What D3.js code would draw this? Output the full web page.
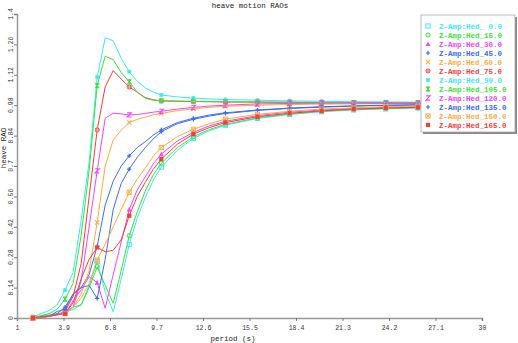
<!DOCTYPE html>
<html><head><meta charset="utf-8">
<script src="https://cdnjs.cloudflare.com/ajax/libs/d3/7.8.5/d3.min.js"></script>
<style>
html,body{margin:0;padding:0;background:#fff;}
svg{display:block;}
text{font-family:"Liberation Mono","DejaVu Sans Mono",monospace;}
</style></head>
<body>
<svg id="chart" width="518" height="343"></svg>
<script>
// ---- data ----
const periods = [2,2.5,3,3.5,4,4.5,5,5.5,6,6.5,7,7.5,8,8.5,9,9.5,10,11,12,13,14,16,18,20,22,24,26,28,30];
const hed0   = [0,0.01,0.015,0.02,0.025,0.04,0.06,0.15,0.26,0.12,0.029,0.18,0.339,0.46,0.555,0.635,0.695,0.772,0.827,0.862,0.888,0.919,0.937,0.95,0.958,0.963,0.967,0.97,0.971];
const hed15  = [0,0.008,0.012,0.018,0.022,0.05,0.06,0.14,0.236,0.15,0.068,0.22,0.379,0.49,0.585,0.66,0.713,0.785,0.835,0.868,0.892,0.922,0.94,0.952,0.96,0.965,0.969,0.971,0.972];
const hed30  = [0,0.005,0.01,0.015,0.02,0.08,0.13,0.19,0.163,0.045,0.2,0.35,0.50,0.59,0.65,0.71,0.755,0.815,0.855,0.885,0.906,0.932,0.948,0.958,0.965,0.97,0.973,0.975,0.976];
const hed45  = [0,0.003,0.008,0.02,0.05,0.11,0.14,0.2,0.33,0.52,0.63,0.70,0.747,0.785,0.812,0.842,0.866,0.9,0.92,0.935,0.945,0.958,0.967,0.973,0.977,0.98,0.982,0.983,0.984];
const hed60  = [0,0.004,0.008,0.015,0.025,0.05,0.11,0.22,0.44,0.70,0.82,0.865,0.90,0.915,0.925,0.935,0.942,0.955,0.963,0.97,0.975,0.98,0.983,0.985,0.986,0.987,0.988,0.988,0.988];
const hed75  = [0,0.004,0.008,0.015,0.03,0.1,0.25,0.56,0.866,1.065,1.139,1.10,1.064,1.04,1.015,1.005,1.0,0.998,0.997,0.996,0.995,0.994,0.993,0.992,0.991,0.99,0.989,0.989,0.988];
const hed90  = [0.005,0.02,0.035,0.06,0.129,0.21,0.45,0.72,1.11,1.29,1.277,1.196,1.134,1.09,1.06,1.04,1.027,1.018,1.013,1.009,1.006,1.003,1.0,0.998,0.996,0.995,0.994,0.993,0.992];
const hed105 = [0.003,0.01,0.02,0.04,0.087,0.16,0.38,0.68,1.07,1.206,1.19,1.13,1.088,1.04,1.012,1.003,1.0,0.999,0.998,0.997,0.996,0.995,0.994,0.993,0.992,0.992,0.991,0.991,0.99];
const hed120 = [0,0.004,0.008,0.015,0.025,0.05,0.17,0.42,0.678,0.92,0.943,0.94,0.935,0.937,0.942,0.948,0.952,0.962,0.97,0.976,0.98,0.986,0.988,0.989,0.99,0.99,0.99,0.99,0.99];
const hed135 = [0,0.003,0.008,0.03,0.04,0.11,0.14,0.15,0.09,0.27,0.50,0.62,0.686,0.74,0.785,0.825,0.858,0.895,0.915,0.93,0.942,0.956,0.965,0.971,0.976,0.979,0.981,0.982,0.983];
const hed150 = [0,0.004,0.008,0.015,0.02,0.05,0.09,0.16,0.267,0.34,0.42,0.50,0.579,0.64,0.69,0.745,0.785,0.835,0.869,0.895,0.916,0.938,0.952,0.962,0.968,0.973,0.975,0.977,0.978];
const hed165 = [0,0.005,0.008,0.015,0.02,0.07,0.18,0.27,0.325,0.305,0.312,0.36,0.471,0.56,0.625,0.685,0.732,0.80,0.847,0.877,0.90,0.927,0.943,0.954,0.962,0.967,0.97,0.973,0.974];

const legendLabels = ["Z-Amp:Hed_ 0.0","Z-Amp:Hed_15.0","Z-Amp:Hed_30.0","Z-Amp:Hed_45.0","Z-Amp:Hed_60.0","Z-Amp:Hed_75.0","Z-Amp:Hed_90.0","Z-Amp:Hed_105.0","Z-Amp:Hed_120.0","Z-Amp:Hed_135.0","Z-Amp:Hed_150.0","Z-Amp:Hed_165.0"];
const seriesValues = [hed0,hed15,hed30,hed45,hed60,hed75,hed90,hed105,hed120,hed135,hed150,hed165];
const xTickLabels = ["1","3.9","6.8","9.7","12.6","15.5","18.4","21.3","24.2","27.1","30"];
const yTickLabels = ["0","0.14","0.28","0.42","0.56","0.7","0.84","0.98","1.12","1.26","1.4"];
const title = "heave motion RAOs";
const xTitle = "period (s)";
const yTitle = "heave RAO";

// ---- styling ----
const colors = ["#38eaf6","#38e438","#f444f4","#3a6ef0","#ffaa3c","#f53c3c"];
const shapes = ["square","circle","triangle","plus","cross","circleplus","asterisk","boxx_f","zee","plus","boxx","fsquare"];

const svg = d3.select("#chart");
const x = d3.scaleLinear().domain([1,30]).range([17,482]);
const y = d3.scaleLinear().domain([0,1.4]).range([318,14]);

// title
svg.append("text").attr("x",250).attr("y",8).attr("text-anchor","middle")
  .attr("font-size","7.5px").attr("fill","#222").text(title);

// x axis
const xAxis = d3.axisBottom(x).tickValues(xTickLabels.map(Number))
  .tickFormat((d,i)=>xTickLabels[i]).tickSize(3).tickSizeOuter(3).tickPadding(4);
const gx = svg.append("g").attr("transform","translate(0,318)").call(xAxis);
gx.select(".domain").attr("stroke","#999").attr("stroke-width",1.5);
gx.selectAll(".tick line").attr("stroke","#777");
gx.selectAll(".tick text").attr("font-size","6.5px").attr("fill","#333").attr("font-family","Liberation Mono, monospace");

// y axis
const yAxis = d3.axisLeft(y).tickValues(yTickLabels.map(Number))
  .tickFormat("").tickSize(3).tickSizeOuter(3);
const gy = svg.append("g").attr("transform","translate(17,0)").call(yAxis);
gy.select(".domain").attr("stroke","#999").attr("stroke-width",1.5);
gy.selectAll(".tick line").attr("stroke","#777");
yTickLabels.forEach(l=>{
  const v = +l;
  svg.append("text").attr("transform",`translate(13,${y(v)}) rotate(-90)`)
    .attr("text-anchor","middle").attr("font-size","6.5px").attr("fill","#333").text(l);
});

// axis titles
svg.append("text").attr("x",233).attr("y",341).attr("text-anchor","middle")
  .attr("font-size","7.5px").attr("fill","#222").text(xTitle);
svg.append("text").attr("transform","translate(6,148) rotate(-90)").attr("text-anchor","middle")
  .attr("font-size","7.5px").attr("fill","#222").text(yTitle);

// marker drawing
function drawMarker(g, shape, color, cx, cy){
  const s = 2.1;
  switch(shape){
    case "square": g.append("rect").attr("x",cx-s).attr("y",cy-s).attr("width",2*s).attr("height",2*s).attr("fill","none").attr("stroke",color).attr("stroke-width",1); break;
    case "fsquare": g.append("rect").attr("x",cx-s).attr("y",cy-s).attr("width",2*s).attr("height",2*s).attr("fill",color); break;
    case "circle": g.append("circle").attr("cx",cx).attr("cy",cy).attr("r",s).attr("fill","none").attr("stroke",color).attr("stroke-width",1); break;
    case "circleplus": g.append("circle").attr("cx",cx).attr("cy",cy).attr("r",s).attr("fill",color).attr("stroke",color).attr("stroke-width",0.8);
      g.append("path").attr("d",`M${cx-s},${cy}H${cx+s}M${cx},${cy-s}V${cy+s}`).attr("stroke","#fff").attr("stroke-width",0.6); break;
    case "triangle": g.append("path").attr("d",`M${cx},${cy-s-0.5}L${cx+s+0.3},${cy+s}L${cx-s-0.3},${cy+s}Z`).attr("fill",color); break;
    case "plus": g.append("path").attr("d",`M${cx-s},${cy}H${cx+s}M${cx},${cy-s}V${cy+s}`).attr("stroke",color).attr("stroke-width",1.2); break;
    case "cross": g.append("path").attr("d",`M${cx-s},${cy-s}L${cx+s},${cy+s}M${cx-s},${cy+s}L${cx+s},${cy-s}`).attr("stroke",color).attr("stroke-width",1.1); break;
    case "asterisk": g.append("path").attr("d",`M${cx-s},${cy}H${cx+s}M${cx},${cy-s}V${cy+s}M${cx-s*0.8},${cy-s*0.8}L${cx+s*0.8},${cy+s*0.8}M${cx-s*0.8},${cy+s*0.8}L${cx+s*0.8},${cy-s*0.8}`).attr("stroke",color).attr("stroke-width",1.1); break;
    case "boxx_f": g.append("path").attr("d",`M${cx-s},${cy-s}L${cx+s},${cy+s}H${cx-s}L${cx+s},${cy-s}Z`).attr("fill",color).attr("stroke",color).attr("stroke-width",0.9); break;
    case "boxx": g.append("rect").attr("x",cx-s).attr("y",cy-s).attr("width",2*s).attr("height",2*s).attr("fill","none").attr("stroke",color).attr("stroke-width",0.9);
      g.append("path").attr("d",`M${cx-s},${cy-s}L${cx+s},${cy+s}M${cx-s},${cy+s}L${cx+s},${cy-s}`).attr("stroke",color).attr("stroke-width",0.9); break;
    case "zee": g.append("path").attr("d",`M${cx-s},${cy-s}H${cx+s}L${cx-s},${cy+s}H${cx+s}`).attr("fill","none").attr("stroke",color).attr("stroke-width",1.1); break;
  }
}

// lines
const line = d3.line().x((d,i)=>x(periods[i])).y(d=>y(d));
const plot = svg.append("g");
seriesValues.forEach((vals,k)=>{
  const col = colors[k%6];
  plot.append("path").attr("d",line(vals)).attr("fill","none").attr("stroke",col).attr("stroke-width",1);
});
seriesValues.forEach((vals,k)=>{
  const col = colors[k%6];
  const mg = plot.append("g");
  vals.forEach((v,i)=>{
    const p = periods[i];
    if (Math.abs(p/2 - Math.round(p/2))<1e-9) drawMarker(mg, shapes[k], col, x(p), y(v));
  });
});

// legend
const lg = svg.append("g");
lg.append("rect").attr("x",423).attr("y",17).attr("width",94).attr("height",117).attr("fill","#888");
lg.append("rect").attr("x",421).attr("y",15).attr("width",94).attr("height",117).attr("fill","#fff").attr("stroke","#aaa").attr("stroke-width",0.8);
legendLabels.forEach((l,k)=>{
  const yy = 26 + k*9;
  const col = colors[k%6];
  drawMarker(lg, shapes[k], col, 428, yy);
  lg.append("text").attr("x",439).attr("y",yy+2.5).attr("font-size","7.5px").attr("font-weight","bold").attr("fill",col).text(l);
});
</script>
</body></html>
